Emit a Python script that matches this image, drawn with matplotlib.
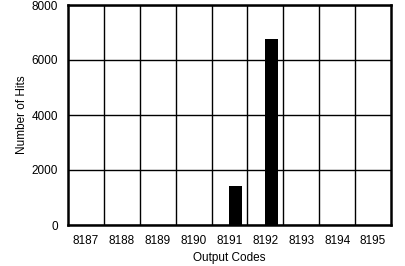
import matplotlib
matplotlib.use("Agg")
import matplotlib.pyplot as plt
import numpy as np

codes = ["8187", "8188", "8189", "8190", "8191", "8192", "8193", "8194", "8195"]
hits = [0, 0, 0, 0, 1420, 6770, 0, 0, 0]
y_ticks = [0, 2000, 4000, 6000, 8000]

plt.rcParams["font.family"] = ["Liberation Sans", "DejaVu Sans"]

fig = plt.figure(figsize=(4.06, 2.66), dpi=100)
ax = fig.add_axes([68 / 406, 1 - 225 / 266, (391 - 68) / 406, 220 / 266])

x = np.arange(len(codes))
ax.bar(x, hits, width=0.36, align="edge", color="black", zorder=3)

ax.set_xlim(-0.5, len(codes) - 0.5)
ax.set_ylim(0, 8000)
ax.set_xticks(x)
ax.set_xticklabels(codes)
ax.set_yticks(y_ticks)
ax.set_xticks(x[:-1] + 0.5, minor=True)

ax.grid(True, which="minor", axis="x", color="black", linewidth=1)
ax.grid(True, which="major", axis="y", color="black", linewidth=1)
ax.tick_params(which="both", length=0, labelsize=8.5)
ax.tick_params(axis="x", pad=7)
ax.tick_params(axis="y", pad=7)

for s in ax.spines.values():
    s.set_linewidth(1.8)

ax.set_xlabel("Output Codes", fontsize=8.5, labelpad=4)
ax.set_ylabel("Number of Hits", fontsize=8.5, labelpad=3)

fig.savefig("out.png", dpi=100)
